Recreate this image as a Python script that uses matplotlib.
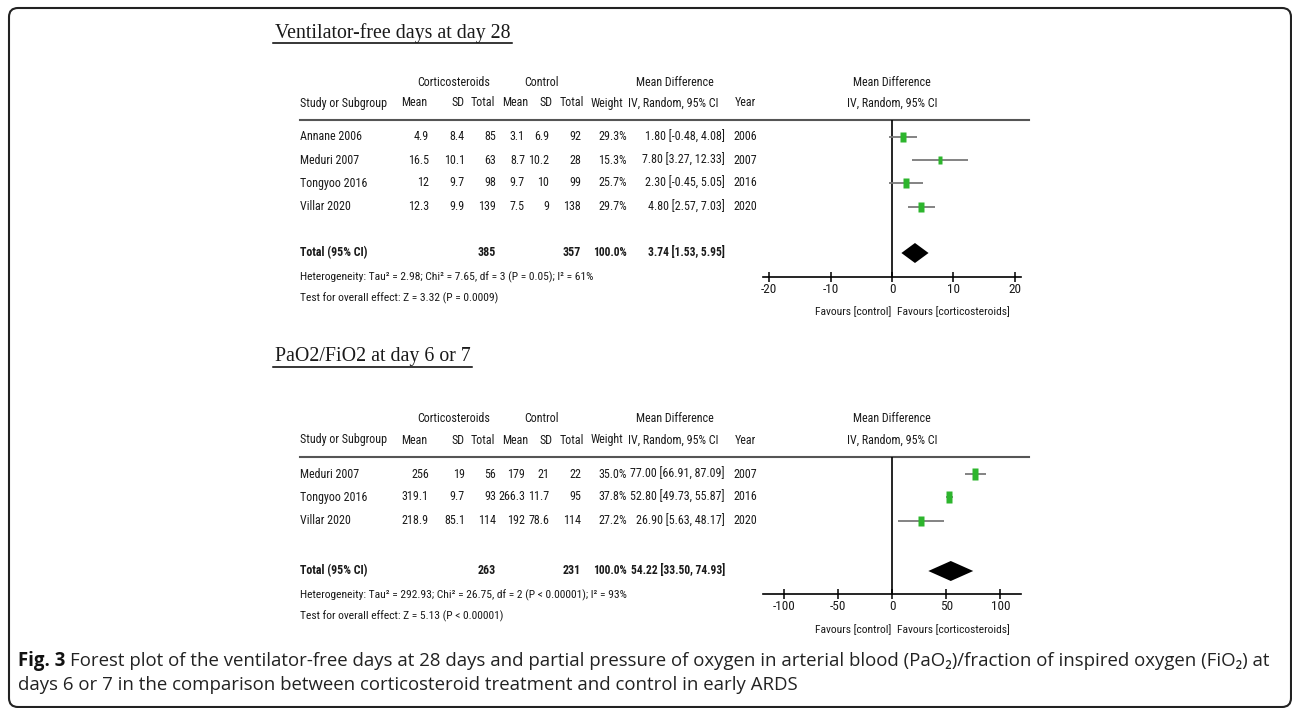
import os
import matplotlib
matplotlib.use('Agg')
import matplotlib.pyplot as plt
from matplotlib import font_manager as fm
from matplotlib.font_manager import FontProperties
from matplotlib.patches import FancyBboxPatch, Polygon
import numpy as np

# ---------------- data ----------------
title1 = "Ventilator-free days at day 28"
studies1 = ['Annane 2006', 'Meduri 2007', 'Tongyoo 2016', 'Villar 2020']
ster_mean1 = [4.9, 16.5, 12, 12.3]
ster_sd1 = [8.4, 10.1, 9.7, 9.9]
ster_n1 = [85, 63, 98, 139]
ctrl_mean1 = [3.1, 8.7, 9.7, 7.5]
ctrl_sd1 = [6.9, 10.2, 10, 9]
ctrl_n1 = [92, 28, 99, 138]
weight1 = [29.3, 15.3, 25.7, 29.7]
md1 = [1.80, 7.80, 2.30, 4.80]
lo1 = [-0.48, 3.27, -0.45, 2.57]
hi1 = [4.08, 12.33, 5.05, 7.03]
year1 = [2006, 2007, 2016, 2020]
total_n1 = (385, 357)
total_md1 = (3.74, 1.53, 5.95)
het1 = "Heterogeneity: Tau² = 2.98; Chi² = 7.65, df = 3 (P = 0.05); I² = 61%"
test1 = "Test for overall effect: Z = 3.32 (P = 0.0009)"
ticks1 = [-20, -10, 0, 10, 20]
xlim1 = (-21, 21)

title2 = "PaO2/FiO2 at day 6 or 7"
studies2 = ['Meduri 2007', 'Tongyoo 2016', 'Villar 2020']
ster_mean2 = [256, 319.1, 218.9]
ster_sd2 = [19, 9.7, 85.1]
ster_n2 = [56, 93, 114]
ctrl_mean2 = [179, 266.3, 192]
ctrl_sd2 = [21, 11.7, 78.6]
ctrl_n2 = [22, 95, 114]
weight2 = [35.0, 37.8, 27.2]
md2 = [77.00, 52.80, 26.90]
lo2 = [66.91, 49.73, 5.63]
hi2 = [87.09, 55.87, 48.17]
year2 = [2007, 2016, 2020]
total_n2 = (263, 231)
total_md2 = (54.22, 33.50, 74.93)
het2 = "Heterogeneity: Tau² = 292.93; Chi² = 26.75, df = 2 (P < 0.00001); I² = 93%"
test2 = "Test for overall effect: Z = 5.13 (P < 0.00001)"
ticks2 = [-100, -50, 0, 50, 100]
xlim2 = (-119, 119)

cap_bold = "Fig. 3"
cap_line1 = ("Forest plot of the ventilator-free days at 28 days and partial pressure of oxygen in "
             "arterial blood (PaO₂)/fraction of inspired oxygen (FiO₂) at")
cap_line2 = "days 6 or 7 in the comparison between corticosteroid treatment and control in early ARDS"

# ---------------- setup ----------------
W, H = 1292, 708
fig = plt.figure(figsize=(W / 100, H / 100), dpi=100)
bg = fig.add_axes([0, 0, 1, 1])
bg.set_xlim(0, W)
bg.set_ylim(H, 0)
bg.axis('off')
renderer = fig.canvas.get_renderer()

TXT = '#1a1a1a'
GREEN = '#2db52d'


def find_condensed(bold):
    fam_pref = ['Liberation Sans Narrow', 'Roboto Condensed', 'Open Sans Condensed', 'Noto Sans',
                'Noto Sans Condensed', 'DejaVu Sans', 'DejaVu Sans Condensed', 'Lato', 'Inter']
    best = None
    for f in fm.fontManager.ttflist:
        base = os.path.basename(f.fname).lower()
        st = str(f.stretch).lower()
        cond = ('condensed' in st or 'narrow' in st or 'condensed' in base or 'narrow' in base
                or 'cond' in base)
        if not cond:
            continue
        if 'italic' in base or 'oblique' in base or str(f.style) != 'normal':
            continue
        if 'cjk' in base or 'mono' in base:
            continue
        try:
            wgt = int(f.weight)
        except Exception:
            wgt = 700 if 'bold' in str(f.weight).lower() else 400
        target = 700 if bold else 400
        score = abs(wgt - target)
        if 'extra' in base or 'ultra' in base:
            score += 150
        if 'semi' in base:
            score += 40
        fam = f.name
        fr = fam_pref.index(fam) if fam in fam_pref else 20
        score += fr * 5
        if best is None or score < best[0]:
            best = (score, f.fname)
    if best is not None and best[0] < 200:
        return FontProperties(fname=best[1])
    return FontProperties(family=['Liberation Sans', 'DejaVu Sans'],
                          weight='bold' if bold else 'normal')


FN = find_condensed(False)
FB = find_condensed(True)
FSERIF = FontProperties(family=['Liberation Serif', 'DejaVu Serif'])
FCAP = FontProperties(family=['Open Sans', 'DejaVu Sans'])
FCAPB = FontProperties(family=['Open Sans', 'DejaVu Sans'], weight='bold')


def sized(fp, size):
    f = fp.copy()
    f.set_size(size)
    return f


def text_w(s, fp, size):
    t = bg.text(0, 0, s, fontproperties=sized(fp, size))
    w = t.get_window_extent(renderer).width
    t.remove()
    return w


def fit(s, fp, target):
    return 10 * target / text_w(s, fp, 10)


S_TAB = min(fit("Study or Subgroup", FN, 95) * 0.93, fit("77.00 [66.91, 87.09]", FN, 94))
S_BOLD = min(S_TAB, fit("Total (95% CI)", FB, 72))
S_BOLD_CI = min(S_BOLD, fit("54.22 [33.50, 74.93]", FB, 95))
S_SMALL = fit(het1, FN, 290)
S_T1 = fit(title1, FSERIF, 235)


def txt(x, y, s, fp, size, ha='left', color=TXT):
    return bg.text(x, y, s, fontproperties=sized(fp, size), ha=ha, va='center', color=color)


def g(v):
    return '{:g}'.format(v)


# column positions (right edges)
X_STUDY = 300
X_M1, X_SD1, X_N1 = 429, 465, 496
X_M2, X_SD2, X_N2 = 525, 549, 581
X_W, X_CI, X_YEAR = 627, 725, 745
FX0, FX1 = 763, 1021


def panel(title, tsize, ty, h1, h2, liney, rows, totaly, hety, testy, axisy, favy,
          studies, sm, ssd, sn, cm, csd, cn, w, md, lo, hi, yr, tn, tmd, het, test, ticks, xlim):
    t = txt(275, ty, title, FSERIF, tsize)
    tw = t.get_window_extent(renderer).width
    bg.plot([273, 275 + tw + 1], [ty + 10, ty + 10], color='black', lw=1.1)

    # headers
    txt((407 + X_N1) / 2 + 2, h1, 'Corticosteroids', FN, S_TAB, ha='center')
    txt((X_N1 + X_N2) / 2 + 3, h1, 'Control', FN, S_TAB, ha='center')
    txt(675, h1, 'Mean Difference', FN, S_TAB, ha='center')
    txt(892, h1, 'Mean Difference', FN, S_TAB, ha='center')
    txt(X_STUDY, h2, 'Study or Subgroup', FN, S_TAB)
    for x, s in [(X_M1 - 2, 'Mean'), (X_SD1 - 1, 'SD'), (X_N1 - 1, 'Total'), (X_M2 + 3, 'Mean'),
                 (X_SD2 + 4, 'SD'), (X_N2 + 3, 'Total'), (X_W - 4, 'Weight'),
                 (X_CI - 6, 'IV, Random, 95% CI')]:
        txt(x, h2, s, FN, S_TAB, ha='right')
    txt(X_YEAR, h2, 'Year', FN, S_TAB, ha='center')
    txt(892, h2, 'IV, Random, 95% CI', FN, S_TAB, ha='center')
    bg.plot([X_STUDY, 1029], [liney, liney], color='#555555', lw=1.5)

    for i, y in enumerate(rows):
        txt(X_STUDY, y, studies[i], FN, S_TAB)
        for x, v in [(X_M1, sm[i]), (X_SD1, ssd[i]), (X_N1, sn[i]), (X_M2, cm[i]),
                     (X_SD2, csd[i]), (X_N2, cn[i])]:
            txt(x, y, g(v), FN, S_TAB, ha='right')
        txt(X_W, y, '{:.1f}%'.format(w[i]), FN, S_TAB, ha='right')
        txt(X_CI, y, '{:.2f} [{:.2f}, {:.2f}]'.format(md[i], lo[i], hi[i]), FN, S_TAB, ha='right')
        txt(X_YEAR, y, str(yr[i]), FN, S_TAB, ha='center')

    txt(X_STUDY, totaly, 'Total (95% CI)', FB, S_BOLD)
    txt(X_N1, totaly, str(tn[0]), FB, S_BOLD, ha='right')
    txt(X_N2, totaly, str(tn[1]), FB, S_BOLD, ha='right')
    txt(X_W, totaly, '100.0%', FB, S_BOLD_CI, ha='right')
    txt(X_CI, totaly, '{:.2f} [{:.2f}, {:.2f}]'.format(*tmd), FB, S_BOLD_CI, ha='right')
    txt(X_STUDY, hety, het, FN, S_SMALL)
    txt(X_STUDY, testy, test, FN, S_SMALL)

    # forest
    ax = fig.add_axes([FX0 / W, 1 - axisy / H, (FX1 - FX0) / W, (axisy - liney) / H])
    ax.set_xlim(*xlim)
    ax.set_ylim(axisy, liney)
    ax.patch.set_alpha(0)
    for s in ['top', 'right', 'left']:
        ax.spines[s].set_visible(False)
    ax.spines['bottom'].set_linewidth(1.2)
    ax.set_yticks([])
    ax.set_xticks(ticks)
    ax.set_xticklabels([str(t) for t in ticks], fontproperties=sized(FN, S_TAB * 1.1), color=TXT)
    ax.tick_params(axis='x', direction='inout', length=7.2, width=1.1, pad=1.0)
    ax.axvline(0, color='black', lw=1.2)
    marker = [(-0.56, -1), (0.56, -1), (0.56, 1), (-0.56, 1), (-0.56, -1)]
    for i, y in enumerate(rows):
        ax.plot([lo[i], hi[i]], [y, y], color='#7a7a7a', lw=1.3, solid_capstyle='butt')
        ax.plot([md[i]], [y], marker=marker, ms=1.9 * np.sqrt(w[i]) * 0.72, color=GREEN,
                mec='none', ls='none')
    dh = 10
    ax.add_patch(Polygon([(tmd[1], totaly), (tmd[0], totaly - dh), (tmd[2], totaly),
                          (tmd[0], totaly + dh)], closed=True, color='black', lw=0))

    txt(891, favy, 'Favours [control]', FN, S_SMALL, ha='right')
    txt(897, favy, 'Favours [corticosteroids]', FN, S_SMALL, ha='left')


S_T2 = S_T1
panel(title1, S_T1, 33, 82, 103, 120, [137, 160, 183, 207], 253, 277, 298, 277, 312,
      studies1, ster_mean1, ster_sd1, ster_n1, ctrl_mean1, ctrl_sd1, ctrl_n1, weight1, md1, lo1, hi1,
      year1, total_n1, total_md1, het1, test1, ticks1, xlim1)
panel(title2, S_T2, 357, 418, 440, 457, [474, 497, 521], 571, 595, 616, 594, 630,
      studies2, ster_mean2, ster_sd2, ster_n2, ctrl_mean2, ctrl_sd2, ctrl_n2, weight2, md2, lo2, hi2,
      year2, total_n2, total_md2, het2, test2, ticks2, xlim2)

# caption
CAP_X = 18
w_b = text_w(cap_bold + ' ', FCAPB, 10)
w_r = text_w(cap_line1, FCAP, 10)
S_CAP = 10 * (1270 - CAP_X) / (w_b + w_r)
bw = text_w(cap_bold + ' ', FCAPB, S_CAP)
txt(CAP_X, 661, cap_bold, FCAPB, S_CAP, color='#111111')
txt(CAP_X + bw, 661, cap_line1, FCAP, S_CAP, color='#222222')
txt(CAP_X, 685, cap_line2, FCAP, S_CAP, color='#222222')

# frame
frame = FancyBboxPatch((9, 8), 1282, 699, boxstyle='round,pad=0,rounding_size=9',
                       fc='none', ec='#222222', lw=1.5, clip_on=False)
bg.add_patch(frame)

fig.savefig('out.png', dpi=100)
